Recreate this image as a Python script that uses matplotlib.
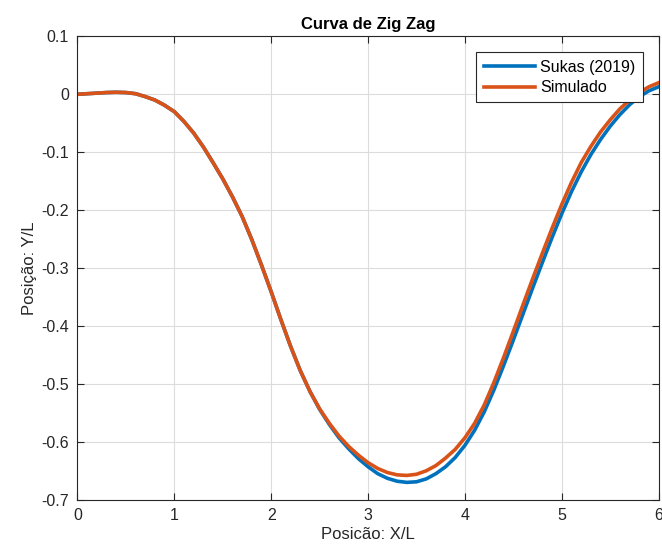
import numpy as np
import matplotlib.pyplot as plt

plt.rcParams['font.family'] = ['Liberation Sans', 'DejaVu Sans']
plt.rcParams['axes.unicode_minus'] = False

# posição X/L (passo 0.1)
x = np.round(np.arange(0, 6.01, 0.1), 1)

# Sukas (2019)
y_sukas = [0.0, 0.001, 0.002, 0.003, 0.0035, 0.003, 0.001, -0.004, -0.010, -0.019,
           -0.030, -0.047, -0.067, -0.091, -0.118, -0.146, -0.177, -0.211, -0.251, -0.295,
           -0.341, -0.389, -0.435, -0.477, -0.513, -0.544, -0.570, -0.593, -0.612, -0.629,
           -0.643, -0.655, -0.663, -0.668, -0.670, -0.669, -0.664, -0.655, -0.643, -0.627,
           -0.606, -0.580, -0.548, -0.510, -0.468, -0.424, -0.379, -0.334, -0.290, -0.247,
           -0.206, -0.168, -0.134, -0.104, -0.078, -0.055, -0.035, -0.018, -0.004, 0.006,
           0.013]

# Simulado
y_sim = [0.0, 0.001, 0.002, 0.003, 0.0035, 0.003, 0.001, -0.004, -0.010, -0.019,
         -0.030, -0.047, -0.067, -0.091, -0.118, -0.146, -0.177, -0.211, -0.251, -0.295,
         -0.341, -0.389, -0.435, -0.477, -0.513, -0.543, -0.568, -0.590, -0.608, -0.623,
         -0.636, -0.646, -0.653, -0.657, -0.658, -0.656, -0.650, -0.641, -0.628, -0.613,
         -0.593, -0.568, -0.536, -0.497, -0.454, -0.409, -0.363, -0.318, -0.274, -0.231,
         -0.190, -0.152, -0.118, -0.090, -0.065, -0.044, -0.025, -0.010, 0.003, 0.013,
         0.020]

xticks = [0, 1, 2, 3, 4, 5, 6]
yticks = [0.1, 0, -0.1, -0.2, -0.3, -0.4, -0.5, -0.6, -0.7]
ytick_labels = ['0.1', '0', '-0.1', '-0.2', '-0.3', '-0.4', '-0.5', '-0.6', '-0.7']

fig = plt.figure(figsize=(6.62, 5.51), dpi=100)
ax = fig.add_axes([0.117, 0.093, 0.878, 0.841])

ax.plot(x, y_sukas, color='#0072BD', lw=2.6, label='Sukas (2019)')
ax.plot(x, y_sim, color='#D95319', lw=2.6, label='Simulado')

ax.set_xlim(0, 6)
ax.set_ylim(-0.7, 0.1)
ax.set_xticks(xticks)
ax.set_xticklabels([str(t) for t in xticks])
ax.set_yticks(yticks)
ax.set_yticklabels(ytick_labels)

ax.grid(True, color='#dcdcdc', lw=0.8)
ax.set_axisbelow(True)
for s in ax.spines.values():
    s.set_color('#262626')
    s.set_linewidth(0.8)
ax.tick_params(direction='in', top=True, right=True, length=5, width=0.8,
               colors='#262626', labelsize=11.5, pad=6)

ax.set_title('Curva de Zig Zag', fontsize=12, fontweight='bold', color='black', pad=5)
ax.set_xlabel('Posicão: X/L', fontsize=12, color='#262626', labelpad=3)
ax.set_ylabel('Posição: Y/L', fontsize=12, color='#262626', labelpad=3)

leg = ax.legend(loc='upper right', fontsize=11.5, handlelength=3.2, borderaxespad=1.0,
                fancybox=False, framealpha=1, edgecolor='#262626', borderpad=0.45,
                labelspacing=0.35, handletextpad=0.35)
leg.get_frame().set_linewidth(0.8)

fig.savefig('out.png', dpi=100)
